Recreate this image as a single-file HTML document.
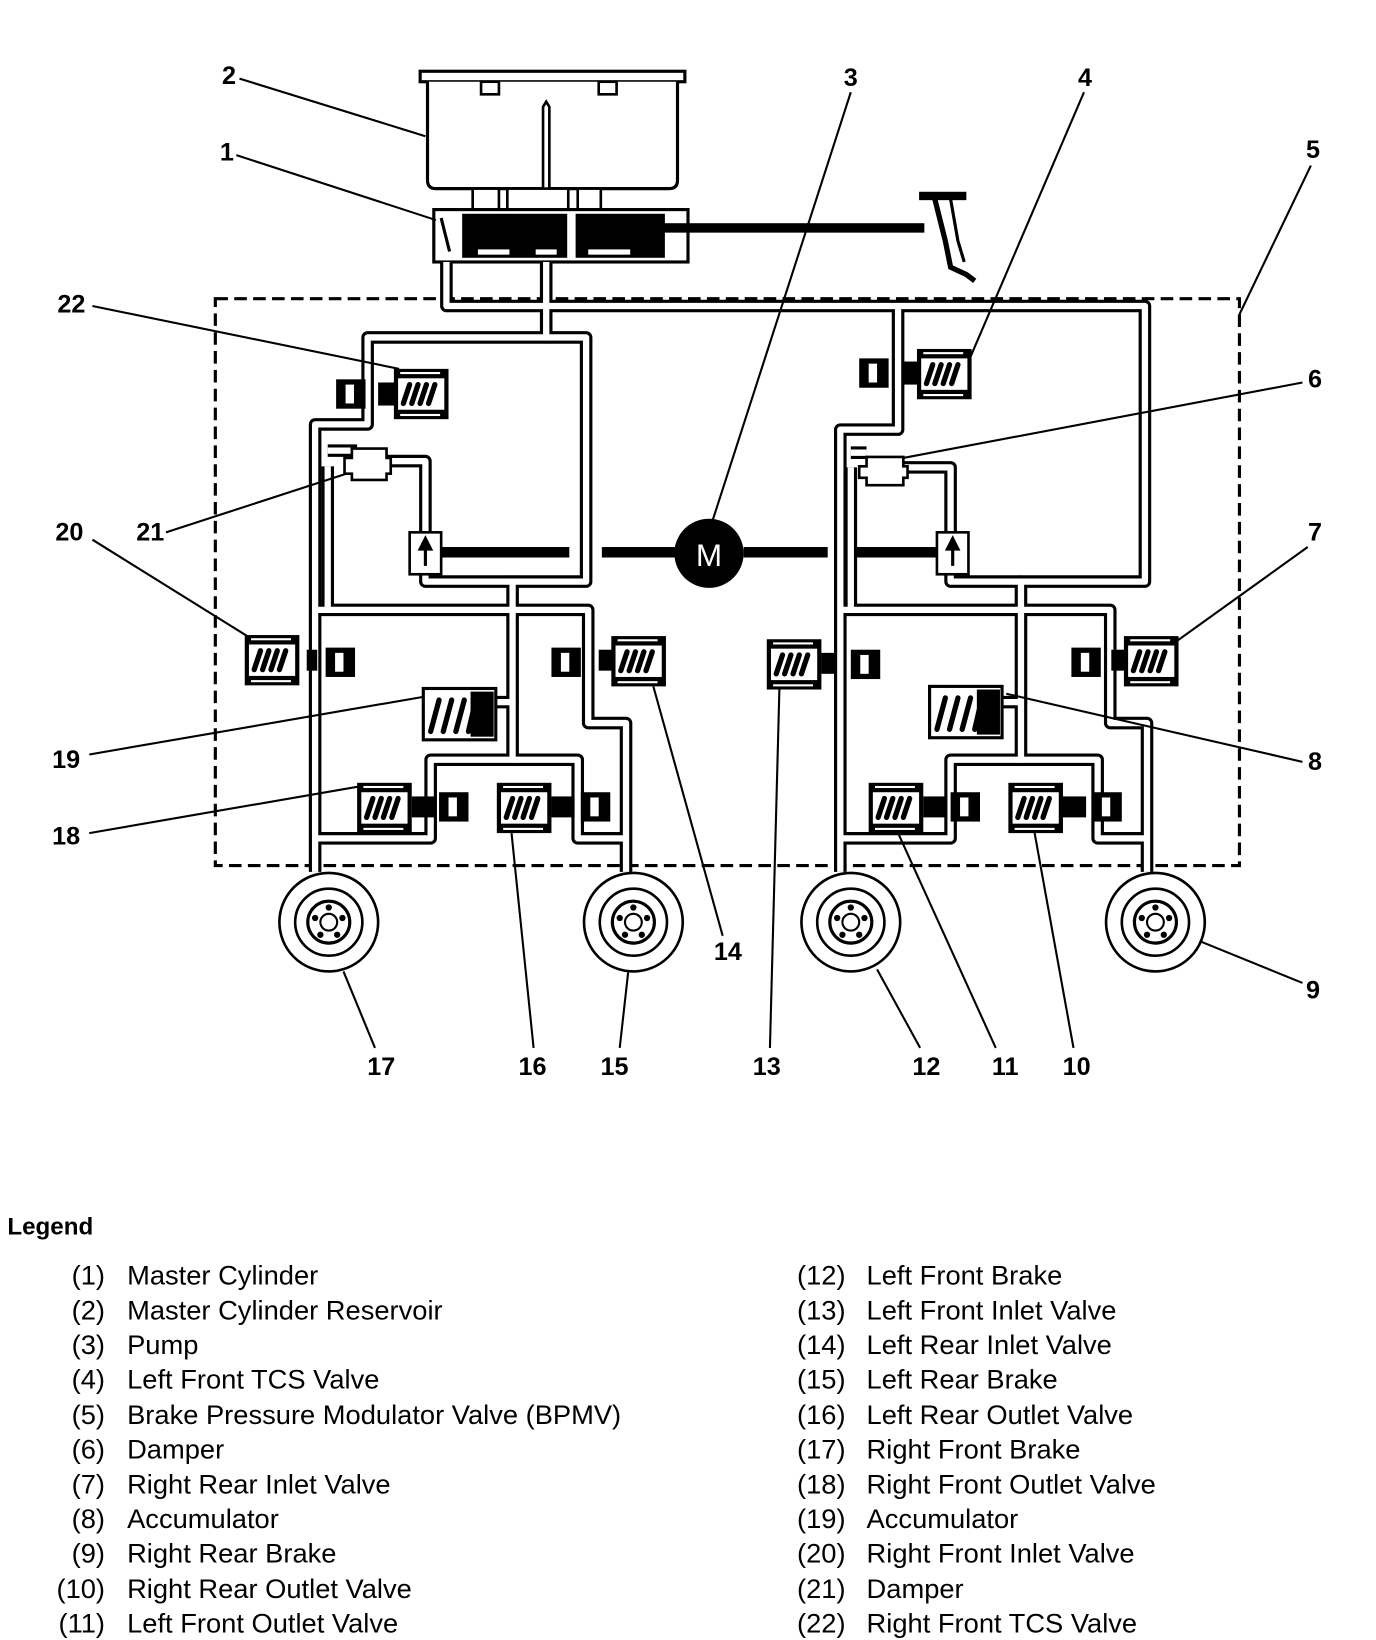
<!DOCTYPE html>
<html><head><meta charset="utf-8"><style>
html,body{margin:0;padding:0;background:#fff;}
svg{display:block;}
text{font-family:"Liberation Sans",sans-serif;fill:#000;}
</style></head><body>
<svg width="1376" height="1640" viewBox="0 0 1310 1565" preserveAspectRatio="none" xmlns="http://www.w3.org/2000/svg">
<defs>
<g id="coil">
<rect x="0" y="0" width="52" height="48" fill="#000"/>
<rect x="4" y="9" width="44" height="30" fill="#fff"/>
<g stroke="#000" stroke-width="5" stroke-linecap="round">
<line x1="9" y1="33" x2="15" y2="15"/><line x1="17" y1="33" x2="23" y2="15"/>
<line x1="25" y1="33" x2="31" y2="15"/><line x1="33" y1="33" x2="39" y2="15"/>
</g>
<rect x="6" y="3" width="38" height="2" fill="#fff"/><rect x="6" y="43" width="38" height="2" fill="#fff"/>
</g>
<g id="blk">
<rect x="0" y="0" width="28" height="28" fill="#000"/>
<rect x="9" y="5" width="8" height="18" fill="#fff"/>
</g>
<g id="wheel">
<circle r="47" fill="#fff" stroke="#000" stroke-width="2.5"/>
<circle r="32" fill="none" stroke="#000" stroke-width="2.5"/>
<circle r="20" fill="none" stroke="#000" stroke-width="3"/>
<circle r="8" fill="none" stroke="#000" stroke-width="2"/>
<g fill="#000"><circle cx="0" cy="-14" r="3"/><circle cx="13" cy="-4" r="3"/><circle cx="8" cy="12" r="3"/><circle cx="-8" cy="12" r="3"/><circle cx="-13" cy="-4" r="3"/></g>
</g>
</defs>

<rect x="205" y="285" width="975" height="541" fill="none" stroke="#000" stroke-width="3" stroke-dasharray="12,6"/>

<rect x="400" y="68" width="252" height="10" fill="#fff" stroke="#000" stroke-width="3"/>
<path d="M407,78 V172 Q407,180 415,180 H637 Q645,180 645,172 V78" fill="#fff" stroke="#000" stroke-width="3"/>
<rect x="458" y="78" width="17" height="12" fill="#fff" stroke="#000" stroke-width="2.5"/>
<rect x="570" y="78" width="17" height="12" fill="#fff" stroke="#000" stroke-width="2.5"/>
<path d="M517,180 V102 L520,97 L523,102 V180" fill="#fff" stroke="#000" stroke-width="2.5"/>
<g fill="#fff" stroke="#000" stroke-width="2.5">
<rect x="450" y="180" width="25" height="22"/><rect x="483" y="180" width="58" height="22"/><rect x="550" y="180" width="22" height="22"/>
</g>
<rect x="413" y="200" width="242" height="50" fill="#fff" stroke="#000" stroke-width="3"/>
<rect x="440" y="204" width="100" height="42" fill="#000"/>
<rect x="548" y="204" width="85" height="42" fill="#000"/>
<rect x="455" y="238" width="30" height="5" fill="#fff"/><rect x="510" y="238" width="20" height="5" fill="#fff"/>
<rect x="560" y="238" width="40" height="5" fill="#fff"/>
<line x1="420" y1="208" x2="428" y2="240" stroke="#000" stroke-width="3"/>
<rect x="630" y="213" width="250" height="9" fill="#000"/>
<rect x="875" y="183" width="45" height="8" fill="#000"/>
<path d="M890,190 L900,230 L905,255 L920,262 L928,268" fill="none" stroke="#000" stroke-width="5"/>
<path d="M905,190 L912,230 L918,250" fill="none" stroke="#000" stroke-width="3"/>

<g fill="none" stroke-linejoin="round" stroke="#000" stroke-width="12">
<path d="M425,250 V292 H1090 V555 H972 V582"/>
<path d="M520,250 V322 H350 V405 H300 V832"/>
<path d="M520,322 H558 V555 H488 V582"/>
<path d="M300,582 H560 V690 H596 V832"/>
<path d="M312,430 H340"/><path d="M365,440 H405 V515"/><path d="M405,545 V555 H488"/>
<path d="M312,445 V582"/>
<path d="M488,582 V670 H472"/><path d="M488,670 V725 H410 V800 H300"/><path d="M488,725 H550 V800 H596"/>
<path d="M855,292 V410 H800 V832"/>
<path d="M810,432 H825"/><path d="M860,446 H905 V515"/><path d="M905,545 V555 H972"/>
<path d="M810,446 V582"/>
<path d="M800,582 H1057 V690 H1092 V832"/>
<path d="M972,582 V670 H955"/><path d="M972,670 V725 H905 V800 H800"/><path d="M972,725 H1045 V800 H1092"/>
</g>
<g fill="none" stroke-linejoin="round" stroke="#fff" stroke-width="6">
<path d="M425,250 V292 H1090 V555 H972 V582"/>
<path d="M520,250 V322 H350 V405 H300 V832"/>
<path d="M520,322 H558 V555 H488 V582"/>
<path d="M300,582 H560 V690 H596 V832"/>
<path d="M312,430 H340"/><path d="M365,440 H405 V515"/><path d="M405,545 V555 H488"/>
<path d="M312,445 V582"/>
<path d="M488,582 V670 H472"/><path d="M488,670 V725 H410 V800 H300"/><path d="M488,725 H550 V800 H596"/>
<path d="M855,292 V410 H800 V832"/>
<path d="M810,432 H825"/><path d="M860,446 H905 V515"/><path d="M905,545 V555 H972"/>
<path d="M810,446 V582"/>
<path d="M800,582 H1057 V690 H1092 V832"/>
<path d="M972,582 V670 H955"/><path d="M972,670 V725 H905 V800 H800"/><path d="M972,725 H1045 V800 H1092"/>
</g>

<path d="M335,432 V428 H368 V437 H372 V452 H368 V458 H335 V452 H328 V437 H335Z" fill="#fff" stroke="#000" stroke-width="2.5"/>
<path d="M825,440 V436 H860 V445 H864 V456 H860 V463 H825 V456 H818 V445 H825Z" fill="#fff" stroke="#000" stroke-width="2.5"/>
<rect x="390" y="508" width="30" height="40" fill="#fff" stroke="#000" stroke-width="2.5"/>
<path d="M405,540 V520 M400,524 L405,514 L410,524Z" stroke="#000" stroke-width="3" fill="#000"/>
<rect x="892" y="508" width="30" height="40" fill="#fff" stroke="#000" stroke-width="2.5"/>
<path d="M907,540 V520 M902,524 L907,514 L912,524Z" stroke="#000" stroke-width="3" fill="#000"/>
<g fill="#000">
<rect x="420" y="522" width="122" height="10"/><rect x="573" y="522" width="70" height="10"/>
<rect x="708" y="522" width="80" height="10"/><rect x="815" y="522" width="77" height="10"/>
</g>
<circle cx="675" cy="528" r="33" fill="#000"/>
<text x="675" y="540" font-size="30" text-anchor="middle" style="fill:#fff">M</text>

<use href="#coil" x="375" y="352"/><rect x="360" y="365" width="16" height="22" fill="#000"/><use href="#blk" x="320" y="362"/>
<use href="#coil" x="233" y="606"/><rect x="292" y="620" width="10" height="20" fill="#000"/><use href="#blk" x="310" y="618"/>
<use href="#coil" x="582" y="607"/><rect x="570" y="620" width="14" height="20" fill="#000"/><use href="#blk" x="525" y="618"/>
<use href="#coil" x="340" y="747"/><rect x="392" y="760" width="22" height="20" fill="#000"/><use href="#blk" x="418" y="756"/>
<use href="#coil" x="473" y="747"/><rect x="525" y="760" width="22" height="20" fill="#000"/><use href="#blk" x="553" y="756"/>
<use href="#coil" x="873" y="333"/><rect x="860" y="345" width="16" height="22" fill="#000"/><use href="#blk" x="818" y="342"/>
<use href="#coil" x="1070" y="607"/><rect x="1058" y="620" width="14" height="20" fill="#000"/><use href="#blk" x="1020" y="618"/>
<use href="#coil" x="730" y="610"/><rect x="782" y="623" width="14" height="20" fill="#000"/><use href="#blk" x="810" y="620"/>
<use href="#coil" x="827" y="747"/><rect x="879" y="760" width="22" height="20" fill="#000"/><use href="#blk" x="905" y="756"/>
<use href="#coil" x="960" y="747"/><rect x="1012" y="760" width="22" height="20" fill="#000"/><use href="#blk" x="1040" y="756"/>
<g>
<rect x="403" y="657" width="69" height="49" fill="#fff" stroke="#000" stroke-width="3"/>
<rect x="448" y="660" width="22" height="43" fill="#000"/>
<g stroke="#000" stroke-width="5" stroke-linecap="round"><line x1="410" y1="698" x2="418" y2="668"/><line x1="422" y1="698" x2="430" y2="668"/><line x1="434" y1="698" x2="442" y2="668"/><line x1="446" y1="698" x2="452" y2="672"/></g>
</g>
<g>
<rect x="885" y="655" width="69" height="49" fill="#fff" stroke="#000" stroke-width="3"/>
<rect x="930" y="658" width="22" height="43" fill="#000"/>
<g stroke="#000" stroke-width="5" stroke-linecap="round"><line x1="892" y1="696" x2="900" y2="666"/><line x1="904" y1="696" x2="912" y2="666"/><line x1="916" y1="696" x2="924" y2="666"/><line x1="928" y1="696" x2="934" y2="670"/></g>
</g>

<use href="#wheel" x="313" y="880"/>
<use href="#wheel" x="603" y="880"/>
<use href="#wheel" x="810" y="880"/>
<use href="#wheel" x="1100" y="880"/>

<g stroke="#000" stroke-width="2" fill="none">
<line x1="228" y1="75" x2="405" y2="130"/>
<line x1="225" y1="148" x2="415" y2="210"/>
<line x1="810" y1="88" x2="678" y2="498"/>
<line x1="1032" y1="88" x2="922" y2="345"/>
<line x1="1248" y1="158" x2="1180" y2="300"/>
<line x1="88" y1="292" x2="380" y2="352"/>
<line x1="1240" y1="365" x2="860" y2="437"/>
<line x1="158" y1="508" x2="330" y2="452"/>
<line x1="88" y1="515" x2="237" y2="608"/>
<line x1="1245" y1="522" x2="1120" y2="612"/>
<line x1="85" y1="720" x2="403" y2="665"/>
<line x1="1240" y1="727" x2="958" y2="662"/>
<line x1="85" y1="795" x2="345" y2="750"/>
<line x1="688" y1="893" x2="622" y2="655"/>
<line x1="508" y1="1000" x2="487" y2="795"/>
<line x1="590" y1="1000" x2="598" y2="928"/>
<line x1="357" y1="1000" x2="327" y2="927"/>
<line x1="733" y1="1000" x2="742" y2="658"/>
<line x1="876" y1="1000" x2="835" y2="925"/>
<line x1="948" y1="1000" x2="855" y2="795"/>
<line x1="1022" y1="1000" x2="985" y2="795"/>
<line x1="1240" y1="938" x2="1142" y2="898"/>
</g>

<g font-size="24" font-weight="bold" text-anchor="middle">
<text x="218" y="80">2</text><text x="216" y="153">1</text><text x="810" y="82">3</text>
<text x="1033" y="82">4</text><text x="1250" y="151">5</text><text x="68" y="298">22</text>
<text x="1252" y="370">6</text><text x="143" y="516">21</text><text x="66" y="516">20</text>
<text x="1252" y="516">7</text><text x="63" y="733">19</text><text x="1252" y="735">8</text>
<text x="63" y="806">18</text><text x="693" y="916">14</text><text x="1250" y="953">9</text>
<text x="363" y="1026">17</text><text x="507" y="1026">16</text><text x="585" y="1026">15</text>
<text x="730" y="1026">13</text><text x="882" y="1026">12</text><text x="957" y="1026">11</text>
<text x="1025" y="1026">10</text>
</g>

<text x="7" y="1178" font-size="23" font-weight="bold">Legend</text>
<g font-size="26">
<g text-anchor="end">
<text x="100" y="1226">(1)</text><text x="100" y="1259">(2)</text><text x="100" y="1292">(3)</text><text x="100" y="1325">(4)</text><text x="100" y="1359">(5)</text><text x="100" y="1392">(6)</text><text x="100" y="1425">(7)</text><text x="100" y="1458">(8)</text><text x="100" y="1491">(9)</text><text x="100" y="1525">(10)</text><text x="100" y="1558">(11)</text>
<text x="805" y="1226">(12)</text><text x="805" y="1259">(13)</text><text x="805" y="1292">(14)</text><text x="805" y="1325">(15)</text><text x="805" y="1359">(16)</text><text x="805" y="1392">(17)</text><text x="805" y="1425">(18)</text><text x="805" y="1458">(19)</text><text x="805" y="1491">(20)</text><text x="805" y="1525">(21)</text><text x="805" y="1558">(22)</text>
</g>
<text x="121" y="1226">Master Cylinder</text>
<text x="121" y="1259">Master Cylinder Reservoir</text>
<text x="121" y="1292">Pump</text>
<text x="121" y="1325">Left Front TCS Valve</text>
<text x="121" y="1359">Brake Pressure Modulator Valve (BPMV)</text>
<text x="121" y="1392">Damper</text>
<text x="121" y="1425">Right Rear Inlet Valve</text>
<text x="121" y="1458">Accumulator</text>
<text x="121" y="1491">Right Rear Brake</text>
<text x="121" y="1525">Right Rear Outlet Valve</text>
<text x="121" y="1558">Left Front Outlet Valve</text>
<text x="825" y="1226">Left Front Brake</text>
<text x="825" y="1259">Left Front Inlet Valve</text>
<text x="825" y="1292">Left Rear Inlet Valve</text>
<text x="825" y="1325">Left Rear Brake</text>
<text x="825" y="1359">Left Rear Outlet Valve</text>
<text x="825" y="1392">Right Front Brake</text>
<text x="825" y="1425">Right Front Outlet Valve</text>
<text x="825" y="1458">Accumulator</text>
<text x="825" y="1491">Right Front Inlet Valve</text>
<text x="825" y="1525">Damper</text>
<text x="825" y="1558">Right Front TCS Valve</text>
</g>
</svg>
</body></html>
